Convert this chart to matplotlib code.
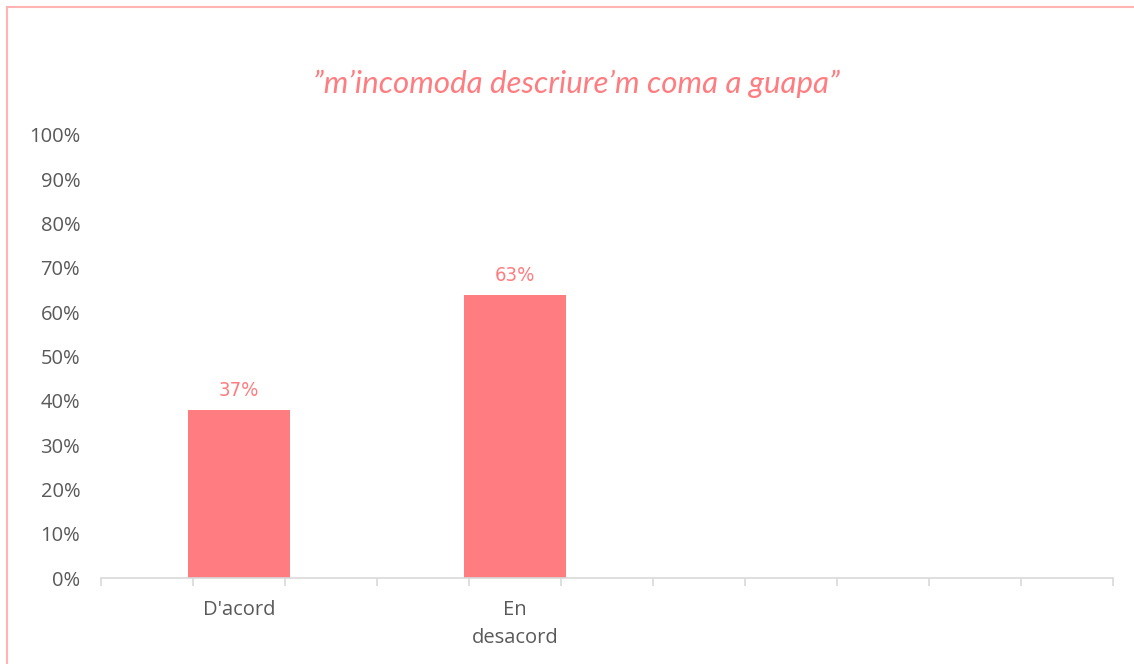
import matplotlib
matplotlib.use('Agg')
from matplotlib import pyplot as plt
from matplotlib.patches import Rectangle

# data
categories = ["D'acord", "En\ndesacord"]
values = [0.379, 0.639]
label_texts = ["37%", "63%"]
y_ticks = [0.0, 0.1, 0.2, 0.3, 0.4, 0.5, 0.6, 0.7, 0.8, 0.9, 1.0]
y_tick_labels = ["%d%%" % round(t * 100) for t in y_ticks]
title = "\u201dm\u2019incomoda descriure\u2019m coma a guapa\u201d"

PINK = "#FF7C80"
GREY = "#595959"
AXIS = "#D9D9D9"

fig = plt.figure(figsize=(11.34, 6.64), dpi=100)
ax = fig.add_axes([101 / 1134, 1 - 578 / 664, 1012 / 1134, 443 / 664])

# chart frame, only top and left edges visible
fig.patches.append(Rectangle((7 / 1134, -0.1), 1.2, 1 - 7 / 664 + 0.1,
                             transform=fig.transFigure, fill=False,
                             edgecolor="#FFB3B3", linewidth=1.5))

# category slots: 11 ticks along the axis, bars every third slot
x_pos = [1.5 + 3 * i for i in range(len(categories))]
bars = ax.bar(x_pos, values, width=1.11, color=PINK, zorder=2)

for bar, txt in zip(bars, label_texts):
    ax.annotate(txt, (bar.get_x() + bar.get_width() / 2, bar.get_height()),
                xytext=(0, 7), textcoords="offset points",
                ha="center", va="bottom", color=PINK, fontsize=14.5,
                fontfamily="DejaVu Sans", fontstretch="condensed",
                fontweight="light")

ax.set_xlim(0, 11)
ax.set_ylim(0, 1)
ax.set_yticks(y_ticks)
ax.set_yticklabels(y_tick_labels, color=GREY, fontsize=14.5, fontfamily="Open Sans")
ax.tick_params(axis="y", length=0, pad=15)

ax.set_xticks(range(12))
ax.set_xticklabels([])
ax.tick_params(axis="x", length=6, color=AXIS, width=1.2)
for x, cat in zip(x_pos, categories):
    ax.text(x, -0.05, cat, transform=ax.get_xaxis_transform(),
            ha="center", va="top", color=GREY, fontsize=14.5,
            fontfamily="Open Sans", linespacing=1.5)

for side in ("top", "right", "left"):
    ax.spines[side].set_visible(False)
ax.spines["bottom"].set_color(AXIS)
ax.spines["bottom"].set_linewidth(1.2)

fig.text(576 / 1134, 1 - 84 / 664, title, ha="center", va="center",
         color=PINK, fontsize=22.5, style="italic", fontfamily="Lato")

plt.savefig("out.png", dpi=100)
